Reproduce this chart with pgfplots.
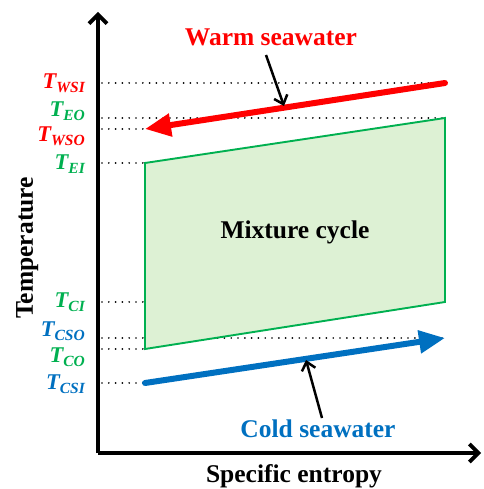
\documentclass[border=0pt]{standalone}
\usepackage{fontspec}
\setmainfont{Liberation Serif}
\usepackage{pgfplots}
\pgfplotsset{compat=1.18}
\usetikzlibrary{arrows.meta}

\definecolor{warm}{HTML}{FF0000}
\definecolor{cyc}{HTML}{00B050}
\definecolor{cycfill}{HTML}{DDF1D4}
\definecolor{cold}{HTML}{0070C0}

% temperature level label: bold italic T with a lowered subscript
\newcommand{\Tlab}[1]{\bfseries\itshape\fontsize{22.5}{24}\selectfont T\raisebox{-3.5pt}{\fontsize{15.5}{16}\selectfont #1}}

\begin{document}
\begin{tikzpicture}
\useasboundingbox (-98pt,-36pt) rectangle (385pt,453pt);
\begin{axis}[
  scale only axis,
  width=383pt, height=441pt,
  xmin=98, xmax=481, ymin=36, ymax=477,
  axis x line=bottom, axis y line=left,
  axis line style={line width=3.8pt, -{Straight Barb[length=9pt,width=18pt]}},
  ticks=none,
  clip=false,
]
% dotted guide lines for the temperature levels
\pgfplotsset{guide/.style={black, line width=1.9pt, line cap=round, dash pattern=on 0pt off 6.8pt}}
\addplot[guide] coordinates {(102,406) (445,406)};
\addplot[guide] coordinates {(102,371) (445,371)};
\addplot[guide] coordinates {(102,360) (145,360)};
\addplot[guide] coordinates {(102,326) (145,326)};
\addplot[guide] coordinates {(102,187) (445,187)};
\addplot[guide] coordinates {(102,151) (445,151)};
\addplot[guide] coordinates {(102,140) (145,140)};
\addplot[guide] coordinates {(102,106) (145,106)};

% mixture cycle region
\addplot[fill=cycfill, draw=cyc, line width=1.9pt] coordinates {(145,326) (445,371) (445,187) (145,140)} -- cycle;

% seawater streams
\addplot[warm, line width=6pt, line cap=round, -{Triangle[length=26pt,width=22pt]}] coordinates {(445,406) (145,360)};
\addplot[cold, line width=6pt, line cap=round, -{Triangle[length=26pt,width=22pt]}] coordinates {(145,106) (445,151)};

% pointers to the streams
\addplot[black, line width=2.5pt, -{Straight Barb[length=8pt,width=14pt]}] coordinates {(266,434) (284,383)};
\addplot[black, line width=2.5pt, -{Straight Barb[length=8pt,width=14pt]}] coordinates {(322,71) (306,129)};

% text
\node[anchor=base, text=warm, font=\bfseries\fontsize{25.5}{28}\selectfont] at (axis cs:271,443) {Warm seawater};
\node[anchor=base, text=cold, font=\bfseries\fontsize{25.5}{28}\selectfont] at (axis cs:318,52) {Cold seawater};
\node[anchor=base, font=\bfseries\fontsize{25.5}{28}\selectfont] at (axis cs:295,250) {Mixture cycle};
\node[anchor=base, font=\bfseries\fontsize{25.5}{28}\selectfont] at (axis cs:294,7) {Specific entropy};
\node[anchor=base, rotate=90, font=\bfseries\fontsize{25.5}{28}\selectfont] at (axis cs:33,241) {Temperature};

\node[anchor=base east, text=warm, inner sep=0pt] at (axis cs:85,400) {\Tlab{WSI}};
\node[anchor=base east, text=cyc,  inner sep=0pt] at (axis cs:85,372) {\Tlab{EO}};
\node[anchor=base east, text=warm, inner sep=0pt] at (axis cs:85,347) {\Tlab{WSO}};
\node[anchor=base east, text=cyc,  inner sep=0pt] at (axis cs:85,319) {\Tlab{EI}};
\node[anchor=base east, text=cyc,  inner sep=0pt] at (axis cs:85,181) {\Tlab{CI}};
\node[anchor=base east, text=cold, inner sep=0pt] at (axis cs:85,152) {\Tlab{CSO}};
\node[anchor=base east, text=cyc,  inner sep=0pt] at (axis cs:85,126) {\Tlab{CO}};
\node[anchor=base east, text=cold, inner sep=0pt] at (axis cs:85,99) {\Tlab{CSI}};
\end{axis}
\end{tikzpicture}
\end{document}
